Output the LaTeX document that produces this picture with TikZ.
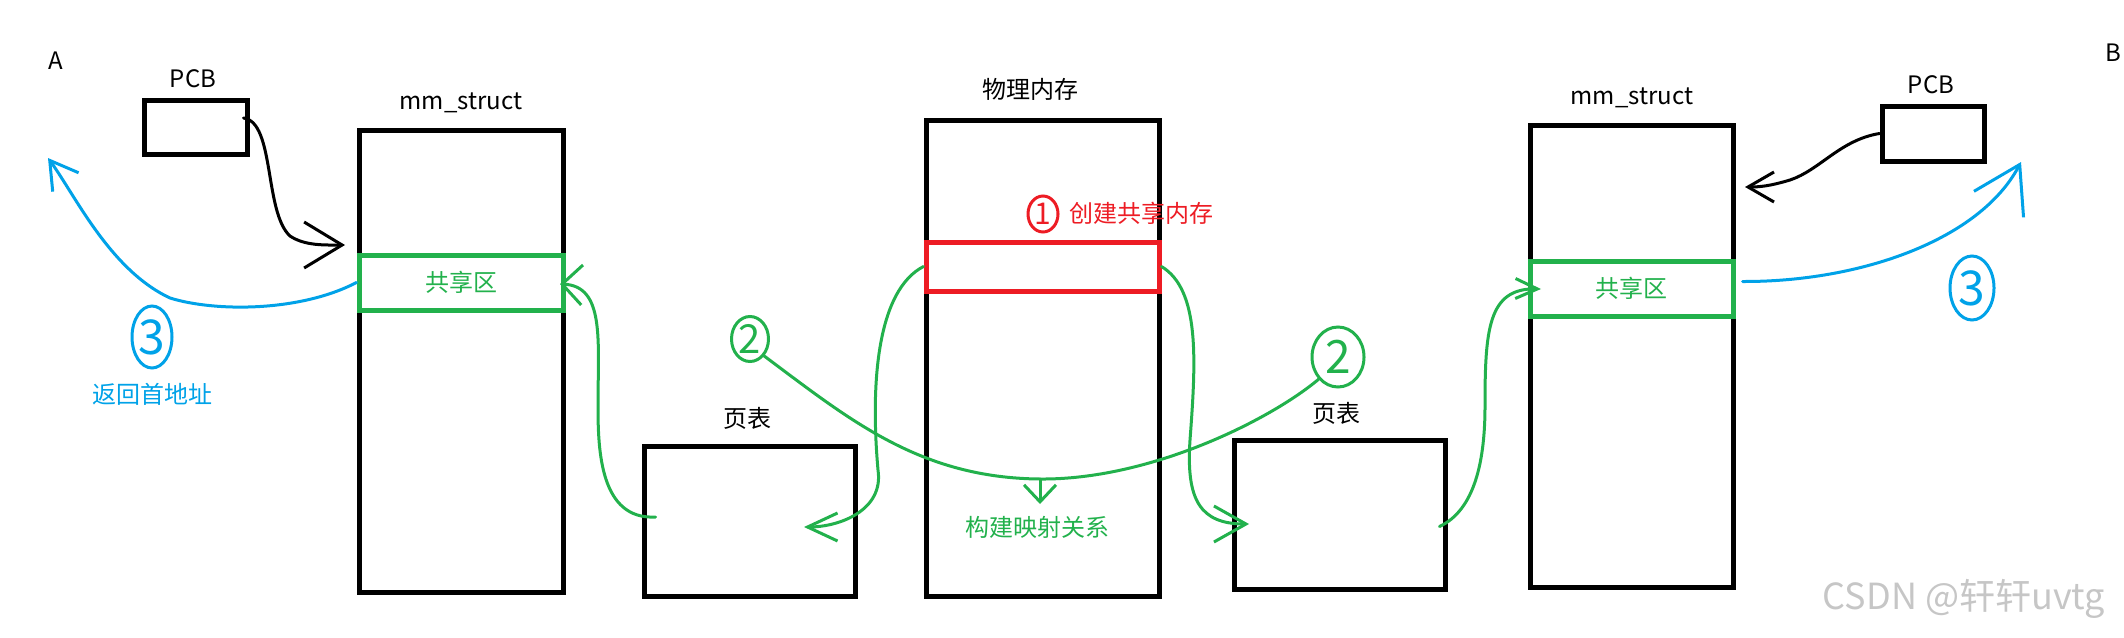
\documentclass[tikz,border=0pt]{standalone}
\usepackage{fontspec}
\setmainfont{Noto Sans CJK SC}
\usetikzlibrary{shapes.geometric,arrows.meta,calc}
\definecolor{pgreen}{HTML}{22B14C}
\definecolor{pred}{HTML}{ED1C24}
\definecolor{pblue}{HTML}{00A2E8}

\begin{document}
\begin{tikzpicture}[x=1pt, y=-1pt,
  box/.style={rectangle, draw, line width=5pt, inner sep=0pt},
  lbl/.style={font=\fontsize{24}{28}\selectfont},
  num/.style={ellipse, draw, line width=3pt, inner sep=0pt},
  ink/.style={line width=3pt, line cap=round, line join=round}
]
\useasboundingbox (0,0) rectangle (2124,637);

% process A
\node[lbl] (labA) at (56,61) {A};
\node[box, minimum width=103pt, minimum height=54pt] (pcbA) at (195.5,127) {};
\node[lbl] (pcbAlbl) at (193,79) {PCB};
\node[box, minimum width=204pt, minimum height=462pt] (mmA) at (461,361) {};
\node[lbl] (mmAlbl) at (461,103) {mm\_struct};
\node[box, draw=pgreen, minimum width=204pt, minimum height=55pt, lbl, text=pgreen] (shA) at (461,282.5) {共享区};
\node[box, minimum width=211pt, minimum height=150pt] (ptA) at (749.5,521) {};
\node[lbl] (ptAlbl) at (747,418) {页表};

% physical memory
\node[box, minimum width=233pt, minimum height=476pt] (mem) at (1042.5,358) {};
\node[lbl] (memlbl) at (1030,89) {物理内存};
\node[box, draw=pred, minimum width=233pt, minimum height=49pt] (red) at (1042.5,266.5) {};
\node[num, draw=pred, text=pred, minimum width=30pt, minimum height=36pt, font=\fontsize{30}{30}\selectfont] (one) at (1043,214) {1};
\node[lbl, text=pred, anchor=west] (create) at (1066,213) {创建共享内存};

% process B
\node[box, minimum width=211pt, minimum height=149pt] (ptB) at (1339.5,514.5) {};
\node[lbl] (ptBlbl) at (1336,413) {页表};
\node[box, minimum width=203pt, minimum height=462pt] (mmB) at (1631.5,356) {};
\node[lbl] (mmBlbl) at (1632,98) {mm\_struct};
\node[box, draw=pgreen, minimum width=203pt, minimum height=55pt, lbl, text=pgreen] (shB) at (1631.5,288.5) {共享区};
\node[box, minimum width=102pt, minimum height=55pt] (pcbB) at (1933,133.5) {};
\node[lbl] (pcbBlbl) at (1931,85) {PCB};
\node[lbl] (labB) at (2113,53) {B};

% step marks
\node[num, draw=pgreen, text=pgreen, minimum width=37pt, minimum height=45pt, font=\fontsize{40}{40}\selectfont] (twoL) at (750,339) {2};
\node[num, draw=pgreen, text=pgreen, minimum width=52pt, minimum height=60pt, font=\fontsize{46}{46}\selectfont] (twoR) at (1338,357) {2};
\node[num, draw=pblue, text=pblue, minimum width=40pt, minimum height=62pt, font=\fontsize{48}{48}\selectfont] (threeL) at (152,337) {3};
\node[num, draw=pblue, text=pblue, minimum width=44pt, minimum height=64pt, font=\fontsize{48}{48}\selectfont] (threeR) at (1972,288) {3};
\node[lbl, text=pblue] (ret) at (152,394) {返回首地址};
\node[lbl, text=pgreen] (map) at (1037,527) {构建映射关系};
\node[text=gray!45, font=\fontsize{36}{40}\selectfont] (mark) at (1964,599) {CSDN @轩轩uvtg};

% PCB -> mm_struct
\draw[ink, -{Straight Barb[length=38pt, width=46pt]}] ($(pcbA.east)+(-6,-9)$)
  .. controls (275,122) and (264,212) .. (290,236)
  .. controls (305,246) and (325,245) .. (345,245);
\draw[ink, -{Straight Barb[length=26pt, width=30pt]}] (pcbB.west)
  .. controls (1840,140) and (1820,170) .. (1790,180)
  .. controls (1770,186) and (1760,187) .. (1745,187);

% return address
\draw[ink, pblue, -{Straight Barb[length=27pt, width=32pt]}] (shA.west)
  .. controls (300,312) and (215,312) .. (170,298)
  .. controls (110,270) and (75,195) .. (48,158);
\draw[ink, pblue, -{Straight Barb[length=45pt, width=56pt]}] ($(shB.east)+(7,-7)$)
  .. controls (1860,282) and (1980,240) .. (2021,162);

% mapping
\draw[ink, pgreen, -{Straight Barb[length=30pt, width=28pt]}] (red.west)
  .. controls (878,290) and (870,380) .. (878,470)
  .. controls (884,510) and (840,527) .. (804,527);
\draw[ink, pgreen, -{Straight Barb[length=32pt, width=36pt]}] (red.east)
  .. controls (1200,290) and (1196,360) .. (1190,440)
  .. controls (1186,500) and (1200,524) .. (1249,524);
\draw[ink, pgreen, -{Straight Barb[length=20pt, width=40pt]}] ($(ptA.west)+(14,-4)$)
  .. controls (600,520) and (598,450) .. (598,406)
  .. controls (598,340) and (605,286) .. (560,284);
\draw[ink, pgreen, -{Straight Barb[length=22pt, width=20pt]}] ($(ptB.east)+(-8,12)$)
  .. controls (1475,510) and (1485,460) .. (1485,406)
  .. controls (1485,330) and (1488,288) .. (1541,289);
\coordinate (mid) at (1040,479);
\draw[ink, pgreen] (twoL.south east)
  .. controls (850,420) and (920,478) .. (mid)
  .. controls (1150,480) and (1270,420) .. (twoR.south west);
\draw[ink, pgreen, -{Straight Barb[length=17pt, width=32pt]}] (mid) -- ($(mid)+(0,25)$);
\end{tikzpicture}
\end{document}
